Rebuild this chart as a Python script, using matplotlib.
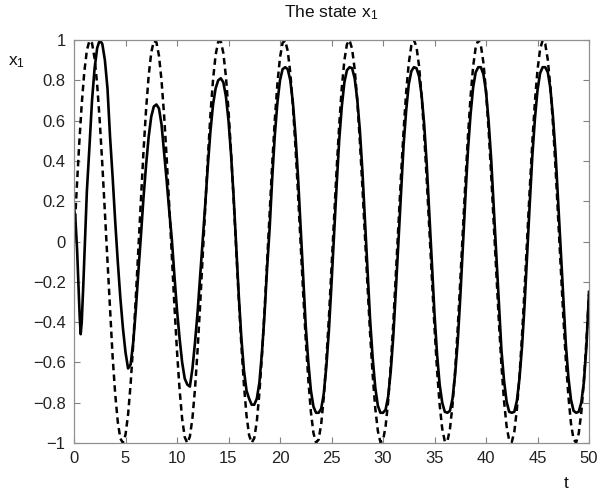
import matplotlib
matplotlib.use("Agg")
import matplotlib.pyplot as plt
import numpy as np

plt.rcParams['font.family'] = ['Liberation Sans', 'DejaVu Sans']
plt.rcParams['mathtext.default'] = 'regular'

# reference signal (dashed), read every 0.25 from t=0 to t=50
x1_ref = [0.000, 0.247, 0.479, 0.682, 0.841, 0.949, 0.997, 0.984, 0.909, 0.778,
          0.598, 0.382, 0.141, -0.108, -0.351, -0.572, -0.757, -0.895, -0.978, -0.999,
          -0.959, -0.859, -0.706, -0.508, -0.279, -0.033,
          0.215, 0.450, 0.657, 0.823, 0.938, 0.995, 0.989, 0.922, 0.798, 0.625,
          0.412, 0.174, -0.075, -0.320, -0.544, -0.734, -0.880, -0.971, -1.000, -0.968,
          -0.876, -0.730, -0.537, -0.311, -0.066,
          0.183, 0.420, 0.632, 0.804, 0.926, 0.991, 0.994, 0.935, 0.818, 0.650,
          0.442, 0.206, -0.042, -0.288, -0.516, -0.712, -0.864, -0.961, -0.999, -0.976,
          -0.893, -0.751, -0.564, -0.342, -0.099,
          0.150, 0.390, 0.606, 0.784, 0.913, 0.986, 0.997, 0.946, 0.837, 0.675,
          0.471, 0.238, -0.009, -0.256, -0.488, -0.688, -0.846, -0.951, -0.998, -0.983,
          -0.906, -0.773, -0.591, -0.374, -0.132,
          0.117, 0.359, 0.579, 0.763, 0.899, 0.979, 0.999, 0.956, 0.855, 0.700,
          0.501, 0.271, 0.024, -0.223, -0.459, -0.664, -0.828, -0.940, -0.996, -0.988,
          -0.918, -0.793, -0.617, -0.404, -0.165,
          0.084, 0.328, 0.551, 0.741, 0.884, 0.972, 1.000, 0.966, 0.871, 0.723,
          0.529, 0.303, 0.057, -0.191, -0.428, -0.640, -0.810, -0.929, -0.992, -0.992,
          -0.930, -0.811, -0.644, -0.434, -0.198,
          0.051, 0.296, 0.524, 0.718, 0.868, 0.964, 1.000, 0.974, 0.887, 0.745,
          0.557, 0.334, 0.091, -0.158, -0.397, -0.614, -0.791, -0.917, -0.987, -0.996,
          -0.944, -0.832, -0.668, -0.464, -0.231,
          0.018, 0.265, 0.495, 0.695, 0.851, 0.954, 0.999, 0.981, 0.902, 0.767,
          0.585, 0.366, 0.124, -0.126, -0.367, -0.587, -0.768, -0.903, -0.982, -0.998,
          -0.953, -0.850, -0.693, -0.493, -0.262]

# state x1 (solid): first transient read at irregular times, then every 0.25 from t=1.5
t_head = [0, 0.15, 0.3, 0.45, 0.55, 0.65, 0.75, 0.9, 1.05, 1.25]
x1_head = [0.17, 0.10, -0.04, -0.24, -0.37, -0.46, -0.40, -0.22, -0.02, 0.25]

x1_tail = [0.47, 0.70, 0.86, 0.96, 1.00, 0.98, 0.90, 0.76, 0.52, 0.32,
           0.10, -0.10, -0.28, -0.43, -0.55, -0.63, -0.61, -0.50, -0.34, -0.15,
           0.03, 0.22, 0.38, 0.52, 0.62, 0.67, 0.68, 0.66, 0.58, 0.44,
           0.30, 0.15, 0.01, -0.17, -0.34, -0.48, -0.60, -0.68, -0.71, -0.72,
           -0.63, -0.50, -0.35, -0.17, 0.01, 0.19, 0.38, 0.55, 0.68, 0.76,
           0.80, 0.81, 0.79, 0.72, 0.60, 0.43, 0.22, -0.02, -0.27, -0.48,
           -0.64, -0.74, -0.78, -0.81, -0.81, -0.78, -0.70, -0.55, -0.36, -0.13,
           # t = 19 .. 25
           0.07, 0.32, 0.53, 0.69, 0.80, 0.855, 0.865, 0.855, 0.80, 0.69,
           0.53, 0.32, 0.07, -0.18, -0.42, -0.60, -0.74, -0.82, -0.85, -0.85,
           -0.83, -0.755, -0.62, -0.44, -0.21,
           # t = 25.25 .. 31.25
           0.04, 0.28, 0.505, 0.67, 0.79, 0.85, 0.865, 0.86, 0.81, 0.705,
           0.555, 0.35, 0.10, -0.15, -0.39, -0.58, -0.725, -0.815, -0.85, -0.85,
           -0.835, -0.77, -0.645, -0.47, -0.24,
           # t = 31.5 .. 37.5
           0.00, 0.25, 0.48, 0.65, 0.78, 0.845, 0.865, 0.86, 0.82, 0.725,
           0.58, 0.38, 0.14, -0.11, -0.36, -0.56, -0.71, -0.80, -0.845, -0.85,
           -0.84, -0.78, -0.66, -0.50, -0.28,
           # t = 37.75 .. 43.75
           -0.03, 0.22, 0.455, 0.63, 0.765, 0.84, 0.865, 0.865, 0.83, 0.745,
           0.60, 0.41, 0.17, -0.08, -0.32, -0.54, -0.69, -0.795, -0.845, -0.85,
           -0.845, -0.79, -0.68, -0.52, -0.31,
           # t = 44 .. 50
           -0.06, 0.19, 0.425, 0.61, 0.75, 0.835, 0.865, 0.865, 0.84, 0.76,
           0.62, 0.44, 0.20, -0.05, -0.29, -0.51, -0.675, -0.785, -0.84, -0.85,
           -0.845, -0.80, -0.70, -0.52, -0.25]

x_ticks = [0, 5, 10, 15, 20, 25, 30, 35, 40, 45, 50]
y_ticks = [-1, -0.8, -0.6, -0.4, -0.2, 0, 0.2, 0.4, 0.6, 0.8, 1]
y_labels = ['\u22121', '\u22120.8', '\u22120.6', '\u22120.4', '\u22120.2', '0',
            '0.2', '0.4', '0.6', '0.8', '1']

t_ref = 0.25 * np.arange(len(x1_ref))
t_sol = np.concatenate([t_head, 1.5 + 0.25 * np.arange(len(x1_tail))])
x1_sol = np.concatenate([x1_head, x1_tail])

fig = plt.figure(figsize=(5.99, 4.96), dpi=100)
ax = fig.add_axes([74 / 599, 53 / 496, 515 / 599, 403 / 496])

ax.plot(t_ref, x1_ref, color='black', lw=1.8, linestyle=(0, (2.6, 1.7)))
ax.plot(t_sol, x1_sol, color='black', lw=1.9, solid_joinstyle='round')

ax.set_xlim(0, 50)
ax.set_ylim(-1, 1)
ax.set_xticks(x_ticks)
ax.set_yticks(y_ticks)
ax.set_yticklabels(y_labels)
ax.tick_params(direction='in', length=4, width=0.8, color='#808080',
               top=True, right=True, labelsize=12, labelcolor='#222222', pad=6)
for sp in ax.spines.values():
    sp.set_color('#909090')
    sp.set_linewidth(0.9)

fig.text(331 / 599, 1 - 13 / 496, 'The state x$_1$', ha='center', va='center',
         fontsize=12.5, color='#111111')
fig.text(17 / 599, 1 - 62 / 496, 'x$_1$', ha='center', va='center',
         fontsize=12.5, color='#111111')
fig.text(566 / 599, 1 - 484 / 496, 't', ha='center', va='center',
         fontsize=12.5, color='#111111')

fig.savefig('out.png', dpi=100)
